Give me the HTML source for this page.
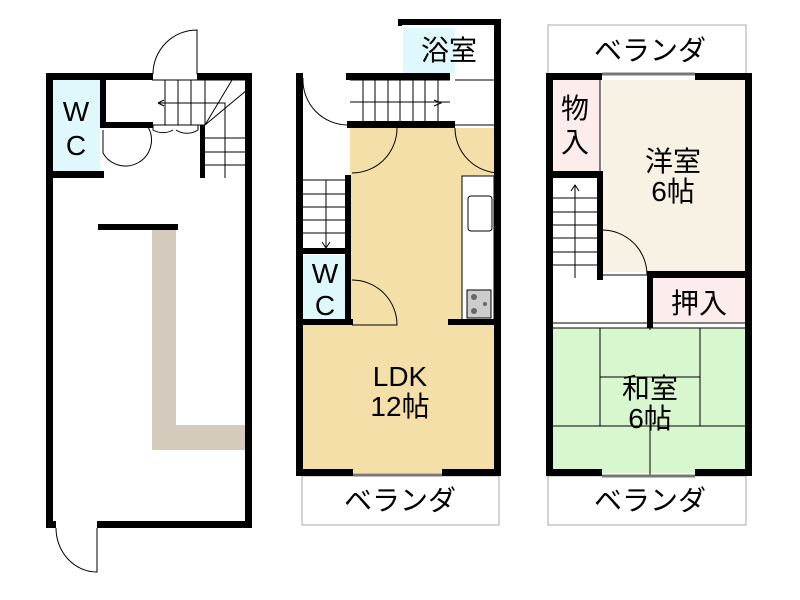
<!DOCTYPE html>
<html><head><style>body{margin:0;background:#fff}svg{display:block}text{font-family:"Liberation Sans","Noto Sans CJK JP",sans-serif;fill:#000}</style></head><body>
<svg width="800" height="600" viewBox="0 0 800 600" xmlns="http://www.w3.org/2000/svg">
<g fill="none" stroke="#000" stroke-width="1">
<!-- LEFT building -->
<rect x="53" y="80" width="47" height="95" fill="#dff8fc" stroke="none"/>
<path d="M152 228 V450 H247 V425 H176 V228 Z" fill="#d5cbbd" stroke="none"/>
<g stroke="#000">
<path d="M152 80 H247 M152 125 H205"/>
<path d="M165 80V125M178 80V125M191 80V125M205 80V125"/>
<path d="M205 103 H225 V178"/><path d="M158 103 H205"/><path d="M158 103 l6 -3 M158 103 l6 3"/>
<path d="M205 125 L232 80 M205 125 L247 90"/>
<path d="M205 138H247M205 152H247M205 165H247"/>
<path d="M153 125 v5 a20 20 0 0 0 20 0 M198 125 v5 a20 20 0 0 1 -22 0" />
<path d="M153 74 A44 44 0 0 1 197 30 V74"/>
<path d="M103 130 V153 A25 25 0 0 0 148 127"/>
<path d="M56 528 A41 44 0 0 0 97 572 V528"/>
</g>
<g fill="#000" stroke="none">
<rect x="46" y="73" width="107" height="7"/><rect x="197" y="73" width="55" height="7"/>
<rect x="46" y="73" width="7" height="455"/><rect x="245" y="73" width="7" height="455"/>
<rect x="46" y="521" width="10" height="7"/><rect x="97" y="521" width="155" height="7"/>
<rect x="46" y="171" width="58" height="7"/><rect x="100" y="80" width="6" height="48"/>
<rect x="100" y="122" width="53" height="6"/><rect x="200" y="125" width="5" height="53"/>
<rect x="98" y="224" width="80" height="6"/>
</g>

<!-- MIDDLE building -->
<rect x="403" y="28" width="52" height="45" fill="#dff8fc" stroke="none"/>
<rect x="350" y="128" width="144" height="345" fill="#f5dfa8" stroke="none"/>
<rect x="303" y="325" width="191" height="148" fill="#f5dfa8" stroke="none"/>
<rect x="303" y="255" width="45" height="68" fill="#dff8fc" stroke="none"/>
<rect x="462" y="176" width="32" height="146" fill="#fff"/>
<rect x="468" y="196" width="24" height="35" rx="3"/>
<rect x="467" y="290" width="24" height="28" fill="#ccc"/>
<circle cx="474" cy="297" r="3" fill="#666" stroke="none"/><circle cx="474" cy="311" r="3" fill="#666" stroke="none"/><circle cx="485" cy="304" r="2" fill="#666" stroke="none"/>
<path d="M350 80H450M350 102H450M363 80V125M375 80V125M388 80V125M400 80V125M413 80V125M425 80V125M438 80V125M434 100l7 3-7 3"/>
<path d="M303 180H348M303 194H348M303 207H348M303 220H348M303 233H348M326 180V248M322 242l4 6 4-6"/>
<path d="M303 78 A45 45 0 0 0 348 125 M397 128 A45 45 0 0 1 352 173 M455 128 A45 45 0 0 0 500 173 M352 280 A45 45 0 0 1 397 325 H352"/>
<path d="M455 80H500M455 125H500"/>
<rect x="302" y="476" width="197" height="49" stroke="#aaa"/>
<path d="M353 475H442" stroke="#777" stroke-width="3"/>
<g fill="#000" stroke="none">
<rect x="296" y="74" width="7" height="402"/><rect x="494" y="74" width="7" height="402"/>
<rect x="296" y="469" width="57" height="7"/><rect x="442" y="469" width="59" height="7"/>
<rect x="296" y="73" width="7" height="7"/><rect x="346" y="73" width="104" height="7"/>
<rect x="398" y="19" width="103" height="6"/><rect x="494" y="19" width="7" height="61"/>
<rect x="398" y="19" width="4" height="7"/>
<rect x="347" y="121" width="108" height="7"/><rect x="345" y="175" width="6" height="150"/>
<rect x="296" y="248" width="55" height="6"/><rect x="296" y="319" width="57" height="6"/><rect x="448" y="319" width="53" height="6"/>
</g>

<!-- RIGHT building -->
<rect x="553" y="80" width="47" height="93" fill="#fcedec" stroke="none"/>
<rect x="602" y="80" width="144" height="192" fill="#f7f2e4" stroke="none"/>
<rect x="652" y="278" width="94" height="44" fill="#fcedec" stroke="none"/>
<rect x="553" y="328" width="193" height="145" fill="#d9f7cf" stroke="none"/>
<path d="M600 80V173"/>
<path d="M553 198H600M553 212H600M553 225H600M553 238H600M553 252H600M553 265H600M575 185V278M571 191l4-6 4 6"/>
<path d="M602 230 A45 45 0 0 1 647 275 H602 M553 323H746M553 328H746"/>
<path d="M600 328V426M700 328V426M553 426H746M600 377H700M650 426V476M650 318V330"/>
<rect x="548" y="25" width="198" height="49" stroke="#aaa"/>
<rect x="548" y="476" width="198" height="49" stroke="#aaa"/>
<path d="M602 74H695M602 476H695" stroke="#777" stroke-width="3"/>
<g fill="#000" stroke="none">
<rect x="546" y="73" width="56" height="7"/><rect x="695" y="73" width="57" height="7"/>
<rect x="546" y="73" width="7" height="403"/><rect x="745" y="73" width="7" height="403"/>
<rect x="546" y="469" width="56" height="7"/><rect x="695" y="469" width="57" height="7"/>
<rect x="546" y="171" width="57" height="7"/><rect x="597" y="171" width="6" height="109"/>
<rect x="647" y="271" width="105" height="7"/><rect x="647" y="271" width="6" height="57"/>
</g>
</g>
<g font-size="28" text-anchor="middle">
<text x="76" y="121">W</text><text x="76" y="155">C</text>
<text x="325" y="283">W</text><text x="325" y="315">C</text>
<text x="449" y="60">浴室</text>
<text x="400" y="386">LDK</text><text x="400" y="416">12帖</text>
<text x="400" y="510">ベランダ</text>
<text x="650" y="60">ベランダ</text>
<text x="650" y="510">ベランダ</text>
<text x="575" y="118">物</text><text x="575" y="152">入</text>
<text x="673" y="171">洋室</text><text x="673" y="201">6帖</text>
<text x="699" y="313">押入</text>
<text x="650" y="398">和室</text><text x="650" y="428">6帖</text>
</g>
</svg>
</body></html>
